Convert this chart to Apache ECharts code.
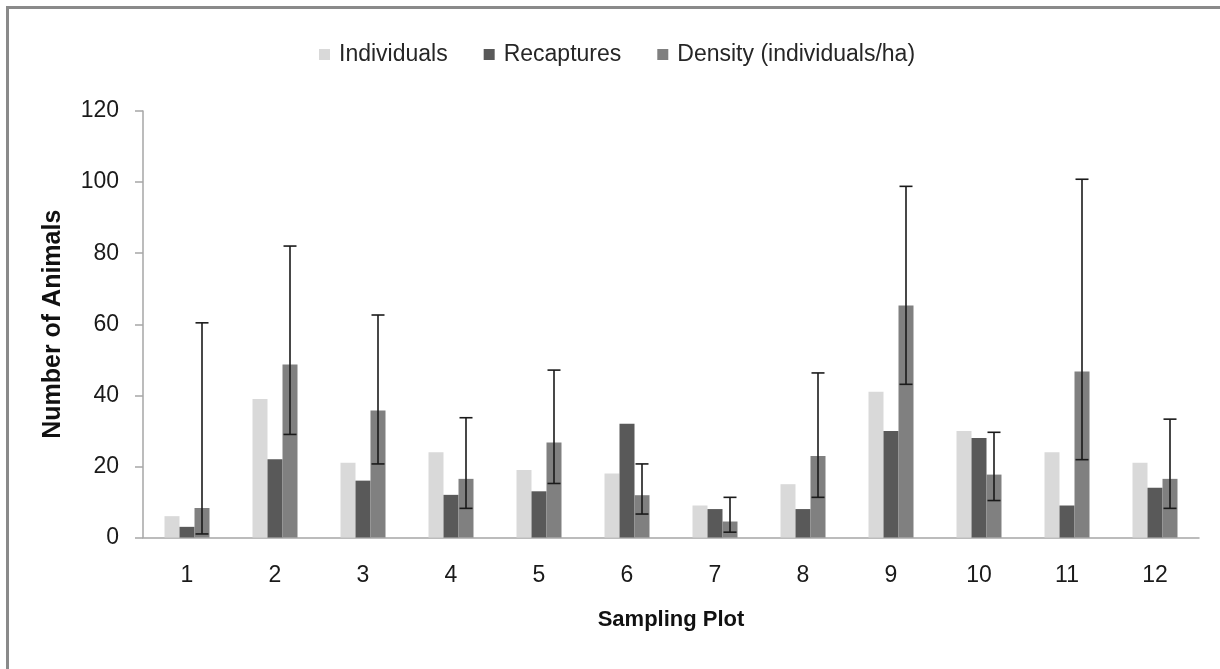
<!DOCTYPE html>
<html>
<head>
<meta charset="utf-8">
<script src="https://cdn.jsdelivr.net/npm/echarts@6/dist/echarts.min.js"></script>
<style>
html,body{margin:0;padding:0;background:#fff;}
#chart{width:1220px;height:669px;}
</style>
</head>
<body>
<div id="chart"></div>
<script>
const categories = ['1','2','3','4','5','6','7','8','9','10','11','12'];
const individuals = [6, 39, 21, 24, 19, 18, 9, 15, 41, 30, 24, 21];
const recaptures = [3, 22, 16, 12, 13, 32, 8, 8, 30, 28, 9, 14];
const density = [8.3, 48.7, 35.7, 16.5, 26.7, 11.9, 4.5, 22.9, 65.3, 17.7, 46.7, 16.5];
const densityLow = [1.0, 29.0, 20.7, 8.2, 15.2, 6.6, 1.5, 11.3, 43.1, 10.4, 21.9, 8.2];
const densityHigh = [60.4, 82.0, 62.6, 33.7, 47.1, 20.7, 11.3, 46.3, 98.8, 29.6, 100.8, 33.3];
const yTicks = [0, 20, 40, 60, 80, 100, 120];

const FONT = '"Liberation Sans", Arial, sans-serif';
const BAR_W = 15;
const CAP_W = 13;

const chart = echarts.init(document.getElementById('chart'), null, {renderer: 'canvas'});

const errData = categories.map((c, i) => [i, densityLow[i], densityHigh[i]]);

chart.setOption({
  backgroundColor: '#ffffff',
  animation: false,
  textStyle: {fontFamily: FONT},
  graphic: [
    {type: 'line', shape: {x1: 6, y1: 7.5, x2: 1220, y2: 7.5}, style: {stroke: '#8a8a8a', lineWidth: 3}},
    {type: 'line', shape: {x1: 7.5, y1: 6, x2: 7.5, y2: 669}, style: {stroke: '#8a8a8a', lineWidth: 3}}
  ],
  legend: {
    left: 314,
    top: 38,
    itemWidth: 11,
    itemHeight: 11,
    itemGap: 36,
    icon: 'rect',
    data: ['Individuals', 'Recaptures', 'Density (individuals/ha)'],
    textStyle: {fontFamily: FONT, fontSize: 23, color: '#262626', padding: [0, 0, 0, 4]}
  },
  grid: {left: 143, right: 21, top: 111, bottom: 131.5, containLabel: false},
  xAxis: {
    type: 'category',
    data: categories,
    name: 'Sampling Plot',
    nameLocation: 'middle',
    nameGap: 71,
    nameTextStyle: {fontFamily: FONT, fontSize: 22, fontWeight: 'bold', color: '#111'},
    axisLine: {lineStyle: {color: '#a6a6a6', width: 1.5}},
    axisTick: {show: false},
    axisLabel: {fontFamily: FONT, fontSize: 23, color: '#1a1a1a', margin: 27}
  },
  yAxis: {
    type: 'value',
    min: 0,
    max: 120,
    interval: 20,
    name: 'Number of Animals',
    nameLocation: 'middle',
    nameGap: 77,
    nameTextStyle: {fontFamily: FONT, fontSize: 25, fontWeight: 'bold', color: '#111'},
    axisLine: {show: true, lineStyle: {color: '#a6a6a6', width: 1.5}},
    axisTick: {show: true, length: 8, lineStyle: {color: '#a6a6a6', width: 1.5}},
    splitLine: {show: false},
    axisLabel: {
      fontFamily: FONT, fontSize: 23, color: '#1a1a1a', margin: 24,
      formatter: v => (yTicks.indexOf(v) >= 0 ? String(v) : '')
    }
  },
  series: [
    {name: 'Individuals', type: 'bar', data: individuals, barWidth: BAR_W, barGap: '0%',
     itemStyle: {color: '#d9d9d9'}},
    {name: 'Recaptures', type: 'bar', data: recaptures, barWidth: BAR_W, barGap: '0%',
     itemStyle: {color: '#595959'}},
    {name: 'Density (individuals/ha)', type: 'bar', data: density, barWidth: BAR_W, barGap: '0%',
     itemStyle: {color: '#808080'}},
    {
      type: 'custom',
      name: 'errors',
      data: errData,
      z: 10,
      encode: {x: 0, y: [1, 2]},
      renderItem: function (params, api) {
        const idx = api.value(0);
        const lo = api.coord([idx, api.value(1)]);
        const hi = api.coord([idx, api.value(2)]);
        const x = lo[0] + BAR_W;
        const style = {stroke: '#1a1a1a', lineWidth: 1.6};
        return {
          type: 'group',
          children: [
            {type: 'line', shape: {x1: x, y1: lo[1], x2: x, y2: hi[1]}, style: style},
            {type: 'line', shape: {x1: x - CAP_W / 2, y1: hi[1], x2: x + CAP_W / 2, y2: hi[1]}, style: style},
            {type: 'line', shape: {x1: x - CAP_W / 2, y1: lo[1], x2: x + CAP_W / 2, y2: lo[1]}, style: style}
          ]
        };
      }
    }
  ]
});
</script>
</body>
</html>
